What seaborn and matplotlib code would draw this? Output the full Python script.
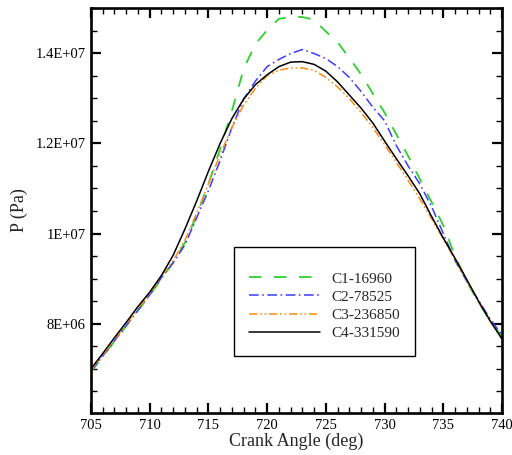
import numpy as np
import pandas as pd
import matplotlib
matplotlib.use("Agg")
import matplotlib.pyplot as plt
import seaborn as sns
from matplotlib.ticker import MultipleLocator, FixedLocator

# ---- data (pressure in units of 1E6 Pa) ----
crank_angle = list(range(705, 741))

c1_16960 = [6.93, 7.27, 7.61, 7.95, 8.29, 8.63, 9.00, 9.36, 9.80, 10.40,
            11.10, 11.88, 12.72, 13.65, 14.20, 14.51, 14.76, 14.80, 14.80, 14.74,
            14.48, 14.24, 13.89, 13.53, 13.10, 12.68, 12.20, 11.72, 11.21, 10.70,
            10.18, 9.50, 8.93, 8.47, 8.06, 7.72]
c2_78525 = [6.95, 7.28, 7.62, 7.96, 8.30, 8.64, 9.02, 9.35, 9.75, 10.35,
            10.95, 11.62, 12.35, 12.98, 13.38, 13.70, 13.86, 13.99, 14.08, 13.99,
            13.88, 13.70, 13.46, 13.15, 12.80, 12.50, 11.95, 11.50, 11.10, 10.60,
            10.00, 9.40, 8.94, 8.52, 8.10, 7.75]
c3_236850 = [6.97, 7.30, 7.65, 7.99, 8.33, 8.67, 9.05, 9.40, 9.85, 10.45,
             11.10, 11.75, 12.35, 12.85, 13.22, 13.50, 13.62, 13.67, 13.67, 13.62,
             13.46, 13.25, 12.99, 12.68, 12.35, 11.97, 11.58, 11.18, 10.77, 10.33,
             9.88, 9.42, 8.95, 8.48, 8.05, 7.66]
c4_331590 = [7.00, 7.34, 7.69, 8.03, 8.38, 8.70, 9.07, 9.52, 10.10, 10.72,
             11.38, 12.00, 12.55, 12.98, 13.30, 13.52, 13.70, 13.80, 13.81, 13.75,
             13.60, 13.36, 13.07, 12.78, 12.45, 12.05, 11.66, 11.28, 10.88, 10.38,
             9.90, 9.45, 8.98, 8.50, 8.06, 7.66]

series_names = ["C1-16960", "C2-78525", "C3-236850", "C4-331590"]
series_values = [c1_16960, c2_78525, c3_236850, c4_331590]

x_ticks = [705, 710, 715, 720, 725, 730, 735, 740]
y_ticks = [8e6, 1e7, 1.2e7, 1.4e7]
y_tick_labels = ["8E+06", "1E+07", "1.2E+07", "1.4E+07"]

# ---- styling ----
sns.set_style("ticks")
plt.rcParams["font.family"] = ["Liberation Serif", "DejaVu Serif"]
plt.rcParams["lines.scale_dashes"] = False

colors = ["#2ed12e", "#3c3cff", "#ff8a14", "#000000"]
dash_patterns = [(9, 9), (7, 2.5, 1.2, 2.5), (6, 2, 1.2, 2, 1.2, 2), None]
widths = [1.3, 1.1, 1.1, 1.1]

fig = plt.figure(figsize=(5.12, 4.55), dpi=100)
ax = fig.add_axes([91 / 512, 1 - 413 / 455, 411 / 512, 405 / 455])

for name, vals, col, dp, lw in zip(series_names, series_values, colors, dash_patterns, widths):
    df = pd.DataFrame({"angle": crank_angle, "P": np.array(vals) * 1e6})
    sns.lineplot(data=df, x="angle", y="P", ax=ax, color=col, linewidth=lw, label=name)
    line = ax.lines[-1]
    if dp is not None:
        line.set_dashes(dp)

ax.set_xlim(705, 740)
ax.set_ylim(6.02e6, 1.5e7)
ax.xaxis.set_major_locator(FixedLocator(x_ticks))
ax.xaxis.set_minor_locator(MultipleLocator(1))
ax.set_yticks(y_ticks)
ax.set_yticklabels(y_tick_labels)
ax.yaxis.set_minor_locator(MultipleLocator(5e5))

ax.tick_params(which="both", direction="in", top=True, right=True, labelsize=10.5, colors="black")
ax.tick_params(which="major", length=7, width=1.6, pad=4)
ax.tick_params(which="minor", length=4.5, width=1.0)
for sp in ax.spines.values():
    sp.set_linewidth(1.9)
    sp.set_color("black")

ax.set_xlabel("Crank Angle (deg)", fontsize=13, labelpad=1)
ax.set_ylabel("P (Pa)", fontsize=13, labelpad=5)

leg = ax.legend(loc="upper left", bbox_to_anchor=((234 - 91) / 411, (413 - 247) / 405),
                fontsize=11, frameon=True, fancybox=False, shadow=False,
                title=" ", title_fontsize=4,
                handlelength=4.6, handletextpad=0.75, labelspacing=0.3,
                borderpad=1.0, borderaxespad=0)
leg.get_frame().set_edgecolor("black")
leg.get_frame().set_linewidth(1.0)
leg.get_frame().set_alpha(1)

fig.savefig("out.png", dpi=100)
